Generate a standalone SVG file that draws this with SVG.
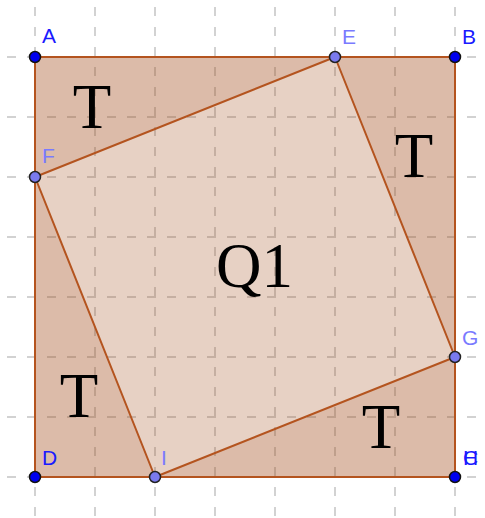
<svg xmlns="http://www.w3.org/2000/svg" width="485" height="518" viewBox="0 0 485 518">
<style>
.grid{stroke:#c4c4c4;stroke-width:1.5;stroke-dasharray:9 11;stroke-dashoffset:13;fill:none}
.sq{fill:rgb(160,70,20);fill-opacity:0.25;stroke:none}
.tri{fill:rgb(160,70,20);fill-opacity:0.15;stroke:none}
.edge{stroke:#b4541f;stroke-width:2;fill:none;stroke-linejoin:round}
.big{font-family:"Liberation Serif",serif;font-size:63px;fill:#000}
.lbl{font-family:"Liberation Sans",sans-serif;font-size:21px}
.dk{fill:#1a1aff}
.lt{fill:#7a7aff}
.pdk{fill:#0000ee;stroke:#111;stroke-width:1.5}
.plt{fill:#7a7aee;stroke:#222;stroke-width:1.5}
</style>
<rect width="485" height="518" fill="#fff"/>
<g id="grid">
<path class="grid" d="M35 0V518M95 0V518M155 0V518M215 0V518M275 0V518M335 0V518M395 0V518M455 0V518"/>
<path class="grid" d="M0 57H485M0 117H485M0 177H485M0 237H485M0 297H485M0 357H485M0 417H485M0 477H485"/>
</g>
<g id="fills">
<polygon class="sq" points="35,57 455,57 455,477 35,477"/>
<polygon class="tri" points="35,57 335,57 35,177"/>
<polygon class="tri" points="335,57 455,57 455,357"/>
<polygon class="tri" points="455,357 455,477 155,477"/>
<polygon class="tri" points="155,477 35,477 35,177"/>
</g>
<g id="connectors">
<polygon class="edge" points="35,57 455,57 455,477 35,477"/>
<polygon class="edge" points="335,57 35,177 155,477 455,357"/>
</g>
<g id="texts">
<text class="big" x="92" y="128" text-anchor="middle">T</text>
<text class="big" x="414" y="177" text-anchor="middle">T</text>
<text class="big" x="79" y="417" text-anchor="middle">T</text>
<text class="big" x="381" y="448" text-anchor="middle">T</text>
<text class="big" x="216" y="287">Q1</text>
</g>
<g id="A"><circle class="pdk" cx="35" cy="57" r="5.5"/><text class="lbl dk" x="42" y="43">A</text></g>
<g id="B"><circle class="pdk" cx="455" cy="57" r="5.5"/><text class="lbl dk" x="462" y="44">B</text></g>
<g id="D"><circle class="pdk" cx="35" cy="477" r="5.5"/><text class="lbl dk" x="42" y="465">D</text></g>
<g id="C"><circle class="pdk" cx="455" cy="477" r="5.5"/><text class="lbl dk" x="463" y="465">C</text><text class="lbl dk" x="463" y="465">H</text></g>
<g id="E"><circle class="plt" cx="335" cy="57" r="5.5"/><text class="lbl lt" x="342" y="44">E</text></g>
<g id="F"><circle class="plt" cx="35" cy="177" r="5.5"/><text class="lbl lt" x="42" y="163">F</text></g>
<g id="G"><circle class="plt" cx="455" cy="357" r="5.5"/><text class="lbl lt" x="462" y="345">G</text></g>
<g id="I"><circle class="plt" cx="155" cy="477" r="5.5"/><text class="lbl lt" x="161" y="465">I</text></g>
</svg>
